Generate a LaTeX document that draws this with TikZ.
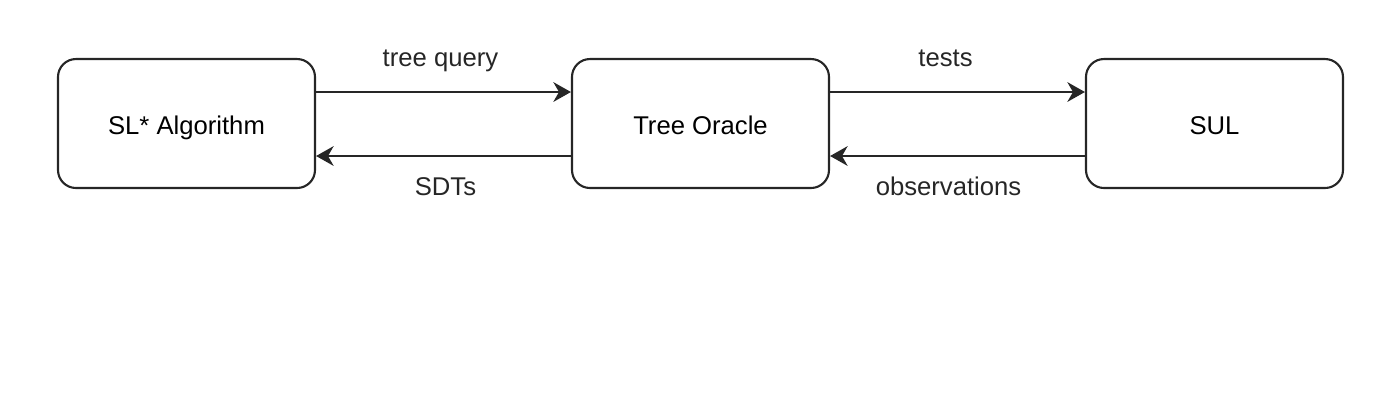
\documentclass[tikz,border=0pt]{standalone}
\usepackage{fontspec}
\setmainfont{Liberation Sans}
\usetikzlibrary{arrows.meta}
\usetikzlibrary{calc}

\begin{document}
\begin{tikzpicture}[every text node part/.style={align=center},
 block/.style={rectangle, inner sep=0pt, minimum width=2.57cm, minimum height=1.29cm, rounded corners=0.18cm, draw=black!85, line width=0.6pt, text height=7pt, text depth=1pt},
 lbl/.style={inner sep=0pt, font=\fontsize{7.3}{9}\selectfont},
 arrow/.style={-{Stealth[length=5pt, width=5.6pt, inset=1.6pt]}, line width=0.6pt, black!85}]

	\useasboundingbox (0,0) rectangle (13.96,-4.03);

	\node[block, lbl] (alg) at (1.865,-1.235) {SL* Algorithm};
	\node[block, lbl] (oracle) at (7.005,-1.235) {Tree Oracle};
	\node[block, lbl] (sul) at (12.145,-1.235) {SUL};

	\draw ($(alg.east) + (0, 0.315)$) edge [arrow] node[lbl, anchor=base, yshift=0.26cm, xshift=-0.03cm] {tree query} ($(oracle.west) + (0, 0.315)$);
	\draw ($(oracle.west) + (0, -0.325)$) edge [arrow] node[lbl, anchor=base, yshift=-0.39cm, xshift=0.02cm] {SDTs} ($(alg.east) + (0, -0.325)$);
	\draw ($(oracle.east) + (0, 0.315)$) edge [arrow] node[lbl, anchor=base, yshift=0.26cm, xshift=-0.12cm] {tests} ($(sul.west) + (0, 0.315)$);
	\draw ($(sul.west) + (0, -0.325)$) edge [arrow] node[lbl, anchor=base, yshift=-0.39cm, xshift=-0.09cm] {observations} ($(oracle.east) + (0, -0.325)$);
\end{tikzpicture}
\end{document}
